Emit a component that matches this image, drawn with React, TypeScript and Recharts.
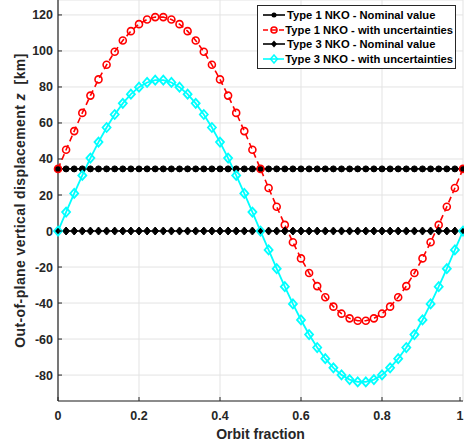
import React from 'react';
import { LineChart, Line, XAxis, YAxis, CartesianGrid, Label } from 'recharts';

const orbitFraction = [
  0, 0.02, 0.04, 0.06, 0.08, 0.1, 0.12, 0.14, 0.16, 0.18, 0.2, 0.22, 0.24, 0.26, 0.28, 0.3, 0.32,
  0.34, 0.36, 0.38, 0.4, 0.42, 0.44, 0.46, 0.48, 0.5, 0.52, 0.54, 0.56, 0.58, 0.6, 0.62, 0.64, 0.66,
  0.68, 0.7, 0.72, 0.74, 0.76, 0.78, 0.8, 0.82, 0.84, 0.86, 0.88, 0.9, 0.92, 0.94, 0.96, 0.98, 1,
];

const type1Nominal = [
  34.5, 34.5, 34.5, 34.5, 34.5, 34.5, 34.5, 34.5, 34.5, 34.5, 34.5, 34.5, 34.5, 34.5, 34.5, 34.5, 34.5,
  34.5, 34.5, 34.5, 34.5, 34.5, 34.5, 34.5, 34.5, 34.5, 34.5, 34.5, 34.5, 34.5, 34.5, 34.5, 34.5, 34.5,
  34.5, 34.5, 34.5, 34.5, 34.5, 34.5, 34.5, 34.5, 34.5, 34.5, 34.5, 34.5, 34.5, 34.5, 34.5, 34.5, 34.5,
];

const type1Uncertain = [
  34.5, 45.1, 55.5, 65.6, 75.2, 84.2, 92.3, 99.6, 105.8, 111.0, 114.9, 117.5, 118.8, 118.8, 117.5, 114.9, 111.0,
  105.8, 99.6, 92.3, 84.2, 75.2, 65.6, 55.5, 45.1, 34.5, 23.9, 13.5, 3.4, -6.2, -15.2, -23.3, -30.6, -36.8,
  -42.0, -45.9, -48.5, -49.8, -49.8, -48.5, -45.9, -42.0, -36.8, -30.6, -23.3, -15.2, -6.2, 3.4, 13.5, 23.9, 34.5,
];

const type3Nominal = [
  0, 0, 0, 0, 0, 0, 0, 0, 0, 0, 0, 0, 0, 0, 0, 0, 0,
  0, 0, 0, 0, 0, 0, 0, 0, 0, 0, 0, 0, 0, 0, 0, 0, 0,
  0, 0, 0, 0, 0, 0, 0, 0, 0, 0, 0, 0, 0, 0, 0, 0, 0,
];

const type3Uncertain = [
  0, 10.5, 20.9, 30.9, 40.5, 49.4, 57.5, 64.7, 70.9, 76.0, 79.9, 82.5, 83.8, 83.8, 82.5, 79.9, 76.0,
  70.9, 64.7, 57.5, 49.4, 40.5, 30.9, 20.9, 10.5, 0, -10.5, -20.9, -30.9, -40.5, -49.4, -57.5, -64.7, -70.9,
  -76.0, -79.9, -82.5, -83.8, -83.8, -82.5, -79.9, -76.0, -70.9, -64.7, -57.5, -49.4, -40.5, -30.9, -20.9, -10.5, 0,
];

const xTicks = [0, 0.2, 0.4, 0.6, 0.8, 1];
const yTicks = [-80, -60, -40, -20, 0, 20, 40, 60, 80, 100, 120];
const seriesNames = [
  'Type 1 NKO - Nominal value',
  'Type 1 NKO - with uncertainties',
  'Type 3 NKO - Nominal value',
  'Type 3 NKO - with uncertainties',
];

const data = orbitFraction.map((t, i) => ({
  t,
  a: type1Nominal[i],
  b: type1Uncertain[i],
  c: type3Nominal[i],
  d: type3Uncertain[i],
}));

const AX = '#262626';
const FONT = '"Liberation Sans", Arial, sans-serif';

const FilledCircle = (p: any) => (
  <circle key={p.key ?? `${p.cx}-${p.cy}`} cx={p.cx} cy={p.cy} r={3} fill="#000" stroke="#000" strokeWidth={1} />
);
const OpenCircle = (p: any) => (
  <circle key={p.key ?? `${p.cx}-${p.cy}`} cx={p.cx} cy={p.cy} r={3.5} fill="none" stroke="#ff0000" strokeWidth={1.6} />
);
const FilledDiamond = (p: any) => (
  <polygon
    key={p.key ?? `${p.cx}-${p.cy}`}
    points={`${p.cx},${p.cy - 4} ${p.cx + 3.5},${p.cy} ${p.cx},${p.cy + 4} ${p.cx - 3.5},${p.cy}`}
    fill="#000"
    stroke="#000"
    strokeWidth={1}
  />
);
const OpenDiamond = (p: any) => (
  <polygon
    key={p.key ?? `${p.cx}-${p.cy}`}
    points={`${p.cx},${p.cy - 4.5} ${p.cx + 4},${p.cy} ${p.cx},${p.cy + 4.5} ${p.cx - 4},${p.cy}`}
    fill="none"
    stroke="#00ffff"
    strokeWidth={1.8}
  />
);

const YTick = (p: any) => (
  <g>
    <line x1={p.x + 5} x2={p.x + 9} y1={p.y} y2={p.y} stroke={AX} strokeWidth={1} />
    <text x={p.x} y={p.y} dy={4.5} textAnchor="end" fontSize={12.5} fontWeight="bold" fill={AX} fontFamily={FONT}>
      {p.payload.value}
    </text>
  </g>
);

const RTick = (p: any) => (
  <line x1={p.x - 1} x2={p.x - 5} y1={p.y} y2={p.y} stroke={AX} strokeWidth={1} />
);

const XTick = (p: any) => (
  <g>
    <line x1={p.x} x2={p.x} y1={p.y - 6} y2={p.y - 10} stroke={AX} strokeWidth={1} />
    <text x={p.x} y={p.y} dy={13} textAnchor="middle" fontSize={12.5} fontWeight="bold" fill={AX} fontFamily={FONT}>
      {p.payload.value}
    </text>
  </g>
);

const YLabel = (p: any) => {
  const vb = p.viewBox || {};
  const cx = 25;
  const cy = (vb.y ?? 0) + (vb.height ?? 0) / 2;
  return (
    <text
      x={cx}
      y={cy}
      transform={`rotate(-90, ${cx}, ${cy})`}
      textAnchor="middle"
      fontSize={14}
      letterSpacing={0.4}
      fontWeight="bold"
      fill={AX}
      fontFamily={FONT}
    >
      Out-of-plane vertical displacement{'\u00a0'}
      <tspan fontStyle="italic">z</tspan>
      {'\u00a0\u00a0'}[km]
    </text>
  );
};

const Sample = ({ i }: { i: number }) => {
  const cy = 5;
  const color = i === 1 ? '#ff0000' : i === 3 ? '#00ffff' : '#000';
  return (
    <svg width={24} height={10} style={{ display: 'block' }}>
      <line x1={1} x2={23} y1={cy} y2={cy} stroke={color} strokeWidth={1.6} strokeDasharray={i === 1 ? '5 3' : undefined} />
      {i === 0 && <circle cx={12} cy={cy} r={2.5} fill="#000" />}
      {i === 1 && <circle cx={12} cy={cy} r={3} fill="none" stroke="#ff0000" strokeWidth={1.6} />}
      {i === 2 && <polygon points={`12,${cy - 3.5} 15,${cy} 12,${cy + 3.5} 9,${cy}`} fill="#000" />}
      {i === 3 && <polygon points={`12,${cy - 4} 15.5,${cy} 12,${cy + 4} 8.5,${cy}`} fill="none" stroke="#00ffff" strokeWidth={1.5} />}
    </svg>
  );
};

const LegendBox = () => (
  <div
    style={{
      position: 'absolute',
      top: 5,
      left: 257,
      border: `1px solid ${AX}`,
      background: '#fff',
      padding: '2px 2px 2px 4px',
      fontFamily: FONT,
      fontWeight: 'bold',
      fontSize: 11.2,
      color: '#000',
      width: 191,
      boxSizing: 'content-box',
    }}
  >
    {seriesNames.map((n, i) => (
      <div key={n} style={{ display: 'flex', alignItems: 'center', height: 14.5, whiteSpace: 'nowrap' }}>
        <Sample i={i} />
        <span style={{ marginLeft: 1 }}>{n}</span>
      </div>
    ))}
  </div>
);

export default function App() {
  return (
    <div style={{ position: 'absolute', left: 0, top: 0, width: 464, height: 447, background: '#fff' }}>
      <LineChart width={464} height={447} data={data} margin={{ top: 0, right: 1, bottom: 0, left: 0 }}>
        <CartesianGrid stroke="#e3e3e3" strokeWidth={1} horizontal vertical />
        <XAxis
          dataKey="t"
          type="number"
          domain={[0, 1]}
          ticks={xTicks}
          height={46}
          tickSize={0}
          tickMargin={6}
          tick={<XTick />}
          axisLine={{ stroke: AX, strokeWidth: 1.2 }}
          tickLine={false}
        >
          <Label
            value="Orbit fraction"
            position="insideBottom"
            offset={8}
            style={{ fontSize: 14, fontWeight: 'bold', fill: AX, fontFamily: FONT }}
          />
        </XAxis>
        <YAxis
          type="number"
          domain={[-94.4, 128.3]}
          ticks={yTicks}
          width={58}
          tickSize={0}
          tickMargin={5}
          tick={<YTick />}
          axisLine={{ stroke: AX, strokeWidth: 1.2 }}
          tickLine={false}
          allowDataOverflow
          label={<YLabel />}
        />
        <YAxis
          yAxisId="r"
          orientation="right"
          type="number"
          domain={[-94.4, 128.3]}
          ticks={yTicks}
          width={0}
          tickSize={0}
          tickMargin={0}
          tick={<RTick />}
          axisLine={{ stroke: AX, strokeWidth: 1.2 }}
          tickLine={false}
        />
        <Line
          dataKey="a"
          name={seriesNames[0]}
          stroke="#000"
          strokeWidth={1.6}
          dot={FilledCircle}
          isAnimationActive={false}
        />
        <Line
          dataKey="b"
          name={seriesNames[1]}
          stroke="#ff0000"
          strokeWidth={1.6}
          strokeDasharray="6 4"
          dot={OpenCircle}
          isAnimationActive={false}
        />
        <Line
          dataKey="c"
          name={seriesNames[2]}
          stroke="#000"
          strokeWidth={1.6}
          dot={FilledDiamond}
          isAnimationActive={false}
        />
        <Line
          dataKey="d"
          name={seriesNames[3]}
          stroke="#00ffff"
          strokeWidth={1.8}
          dot={OpenDiamond}
          isAnimationActive={false}
        />
      </LineChart>
      <LegendBox />
    </div>
  );
}
